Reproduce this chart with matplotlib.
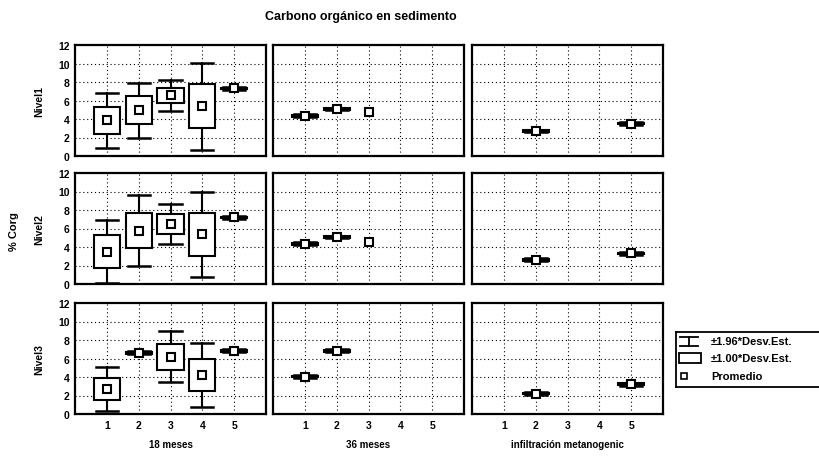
# -*- coding: utf-8 -*-

import numpy as np
import matplotlib.pyplot as plt
from matplotlib.patches import Rectangle

plt.rcParams['font.family'] = ['Liberation Sans', 'DejaVu Sans']
plt.rcParams['font.weight'] = 'bold'
plt.rcParams['axes.labelweight'] = 'bold'

nan = np.nan

groups = [1, 2, 3, 4, 5]
col_titles = ['18 meses', '36 meses', 'infiltración metanogenic']
row_titles = ['Nivel1', 'Nivel2', 'Nivel3']

# mean and standard deviation, per row (nivel), per group
means_18 = [[3.85, 4.94, 6.55, 5.40, 7.30],
            [3.50, 5.78, 6.46, 5.36, 7.20],
            [2.70, 6.62, 6.20, 4.20, 6.83]]
sd_18 = [[1.50, 1.50, 0.85, 2.40, 0.08],
         [1.75, 1.94, 1.10, 2.35, 0.08],
         [1.20, 0.08, 1.40, 1.75, 0.08]]

means_36 = [[4.35, 5.08, 4.80, nan, nan],
            [4.33, 5.08, 4.55, nan, nan],
            [4.05, 6.83, nan, nan, nan]]
sd_36 = [[0.08, 0.08, 0.0, nan, nan],
         [0.08, 0.08, 0.0, nan, nan],
         [0.08, 0.08, nan, nan, nan]]

means_inf = [[nan, 2.70, nan, nan, 3.50],
             [nan, 2.62, nan, nan, 3.30],
             [nan, 2.20, nan, nan, 3.22]]
sd_inf = [[nan, 0.08, nan, nan, 0.08],
          [nan, 0.08, nan, nan, 0.08],
          [nan, 0.08, nan, nan, 0.08]]

all_means = [means_18, means_36, means_inf]
all_sd = [sd_18, sd_36, sd_inf]

W, H = 819, 460
fig = plt.figure(figsize=(W/100, H/100), dpi=100)

col_left = [75, 273, 472]
row_top = [46, 174, 304]
pw, ph = 191, 111

box_w = 0.82
cap_w = 0.70


def draw_panel(ax, means, sds):
    for x, m, s in zip(groups, means, sds):
        if np.isnan(m):
            continue
        if s > 0:
            lo, hi = m - 1.96*s, m + 1.96*s
            ax.plot([x, x], [lo, hi], color='black', lw=1.5, zorder=2)
            ax.plot([x - cap_w/2, x + cap_w/2], [hi, hi], color='black', lw=1.8, zorder=2)
            ax.plot([x - cap_w/2, x + cap_w/2], [lo, lo], color='black', lw=1.8, zorder=2)
            ax.add_patch(Rectangle((x - box_w/2, m - s), box_w, 2*s,
                                   facecolor='white', edgecolor='black', lw=1.5, zorder=3))
        ax.plot(x, m, 's', ms=5.5, mfc='white', mec='black', mew=1.5, zorder=4)


for r in range(3):
    for c in range(3):
        left = col_left[c] / W
        bottom = (H - row_top[r] - ph) / H
        ax = fig.add_axes([left, bottom, pw / W, ph / H])
        draw_panel(ax, all_means[c][r], all_sd[c][r])
        ax.set_xlim(0, 6)
        ax.set_ylim(0, 12)
        ax.set_xticks(groups)
        ax.set_yticks(range(0, 13, 2))
        for v in groups:
            ax.axvline(v, color='black', ls=(0, (1, 2.5)), lw=0.8, zorder=1)
        for v in range(2, 12, 2):
            ax.axhline(v, color='black', ls=(0, (1, 2.5)), lw=0.8, zorder=1)
        ax.tick_params(length=0, labelsize=7.5, pad=4)
        for sp in ax.spines.values():
            sp.set_linewidth(1.6)
        if c == 0:
            ax.set_ylabel(row_titles[r], fontsize=7.5, labelpad=10)
        else:
            ax.set_yticklabels([])
        if r == 2:
            ax.set_xlabel(col_titles[c], fontsize=7, labelpad=7)
        else:
            ax.set_xticklabels([])

fig.text(265 / W, 1 - 17 / H, 'Carbono orgánico en sedimento', fontsize=9,
         ha='left', va='center')
fig.text(14 / W, 1 - 232 / H, '% Corg', fontsize=8, rotation=90,
         ha='center', va='center')

# legend
lax = fig.add_axes([676 / W, (H - 388) / H, 160 / W, 55 / H])
lax.set_xlim(0, 160)
lax.set_ylim(55, 0)
lax.set_xticks([])
lax.set_yticks([])
for sp in lax.spines.values():
    sp.set_linewidth(1.3)
lax.spines['right'].set_visible(False)

# whisker icon
lax.plot([4, 22], [5, 5], color='black', lw=1.3)
lax.plot([4, 22], [14, 14], color='black', lw=1.3)
lax.plot([13, 13], [5, 14], color='black', lw=1.3)
# box icon
lax.add_patch(Rectangle((3, 21), 22, 10, facecolor='white', edgecolor='black', lw=1.3))
# mean icon
lax.plot(8, 44, 's', ms=4, mfc='white', mec='black', mew=1.2)

lax.text(35, 9.5, '±1.96*Desv.Est.', fontsize=8, va='center')
lax.text(35, 26, '±1.00*Desv.Est.', fontsize=8, va='center')
lax.text(35, 44, 'Promedio', fontsize=8, va='center')

plt.savefig('out.png', dpi=100)
